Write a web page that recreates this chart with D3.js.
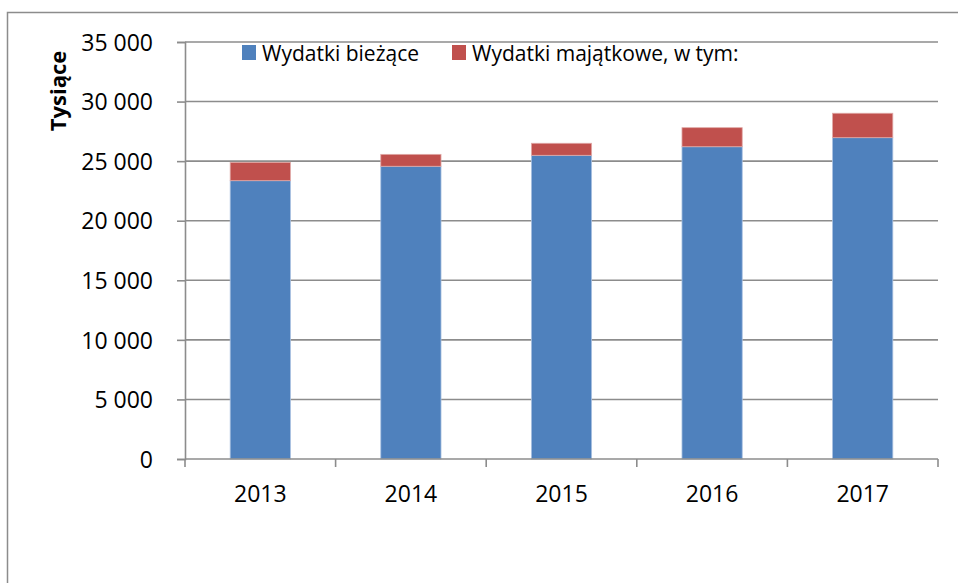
<!DOCTYPE html>
<html>
<head>
<meta charset="utf-8">
<script src="https://cdn.jsdelivr.net/npm/d3@7/dist/d3.min.js"></script>
<style>
body { margin: 0; background: #fff; }
text { font-family: "Open Sans", sans-serif; fill: #000; }
</style>
</head>
<body>
<div id="chartDiv"></div>
<script>
// data
var years = ["2013", "2014", "2015", "2016", "2017"]
var biezace = [23360, 24570, 25490, 26210, 26970]
var majatkowe = [1540, 1000, 1010, 1600, 2050]
var seriesNames = ["Wydatki bieżące", "Wydatki majątkowe, w tym:"]
var seriesColours = ["#4F81BD", "#C0504D"]
var yTicks = [0, 5000, 10000, 15000, 20000, 25000, 30000, 35000]

var w = 958, h = 583

var svg = d3.select("#chartDiv")
	.append("svg")
	.attr("width", w)
	.attr("height", h)

// outer frame (runs off right and bottom edge)
svg.append("rect")
	.attr("x", 7.5).attr("y", 12.5)
	.attr("width", 960).attr("height", 600)
	.style("fill", "none")
	.style("stroke", "#8c8c8c")
	.style("stroke-width", 1.5)

var plot = {l: 185, r: 938, t: 42, b: 459}

var x = d3.scaleBand()
	.domain(years)
	.range([plot.l, plot.r])
	.paddingInner(0.6)
	.paddingOuter(0.3)

var y = d3.scaleLinear()
	.domain([0, 35000])
	.range([plot.b, plot.t])

var fmt = function(d) { return d3.format(",")(d).replace(/,/g, " ") }

// gridlines
svg.append("g")
	.selectAll("line")
	.data(yTicks.slice(1))
	.enter()
	.append("line")
	.attr("x1", plot.l).attr("x2", plot.r)
	.attr("y1", function(d) { return y(d) })
	.attr("y2", function(d) { return y(d) })
	.style("stroke", "#8c8c8c")
	.style("stroke-width", 1.6)

// stacked bars
var stacked = years.map(function(yr, i) {
	return {year: yr, b: biezace[i], m: majatkowe[i]}
})

var barG = svg.append("g")

barG.selectAll(".blue")
	.data(stacked)
	.enter()
	.append("rect")
	.attr("x", function(d) { return x(d.year) })
	.attr("width", x.bandwidth())
	.attr("y", function(d) { return y(d.b) })
	.attr("height", function(d) { return y(0) - y(d.b) })
	.style("fill", seriesColours[0])
	.style("stroke", "#a9c1e0")
	.style("stroke-width", 0.8)

barG.selectAll(".red")
	.data(stacked)
	.enter()
	.append("rect")
	.attr("x", function(d) { return x(d.year) })
	.attr("width", x.bandwidth())
	.attr("y", function(d) { return y(d.b + d.m) })
	.attr("height", function(d) { return y(d.b) - y(d.b + d.m) })
	.style("fill", seriesColours[1])
	.style("stroke", "#e0a9a7")
	.style("stroke-width", 0.8)

// y axis
var yAxis = svg.append("g")
	.attr("transform", "translate(" + plot.l + ",0)")
	.call(d3.axisLeft(y).tickValues(yTicks).tickFormat(fmt).tickSize(8).tickPadding(24))

yAxis.select(".domain").style("stroke", "#8c8c8c").style("stroke-width", 1.6)
yAxis.selectAll(".tick line").style("stroke", "#8c8c8c").style("stroke-width", 1.6)
yAxis.selectAll(".tick text")
	.style("font-family", "'Open Sans', sans-serif")
	.style("font-size", "23px")
	.attr("dy", "0.36em")

// x axis
var xg = svg.append("g")
	.attr("transform", "translate(0," + plot.b + ")")

xg.append("line")
	.attr("x1", plot.l).attr("x2", plot.r)
	.style("stroke", "#8c8c8c").style("stroke-width", 1.6)

var step = x.step()
var bounds = d3.range(years.length + 1).map(function(i) { return plot.l + i * step })

xg.selectAll(".xt")
	.data(bounds)
	.enter()
	.append("line")
	.attr("x1", function(d) { return d }).attr("x2", function(d) { return d })
	.attr("y1", 0).attr("y2", 8)
	.style("stroke", "#8c8c8c").style("stroke-width", 1.6)

xg.selectAll(".xl")
	.data(years)
	.enter()
	.append("text")
	.attr("x", function(d) { return x(d) + x.bandwidth() / 2 })
	.attr("y", 43)
	.attr("text-anchor", "middle")
	.style("font-size", "23px")
	.text(function(d) { return d })

// y axis title
svg.append("text")
	.attr("transform", "translate(66,91) rotate(-90)")
	.attr("text-anchor", "middle")
	.style("font-size", "22px")
	.style("font-weight", "bold")
	.text("Tysiące")

// legend
var legendX = [242, 452]
var leg = svg.append("g")
	.selectAll("g")
	.data(seriesNames)
	.enter()
	.append("g")
	.attr("transform", function(d, i) { return "translate(" + legendX[i] + ",45)" })

leg.append("rect")
	.attr("width", 14).attr("height", 15)
	.style("fill", function(d, i) { return seriesColours[i] })

leg.append("text")
	.attr("x", 20).attr("y", 16)
	.style("font-size", "21px")
	.text(function(d) { return d })
</script>
</body>
</html>
